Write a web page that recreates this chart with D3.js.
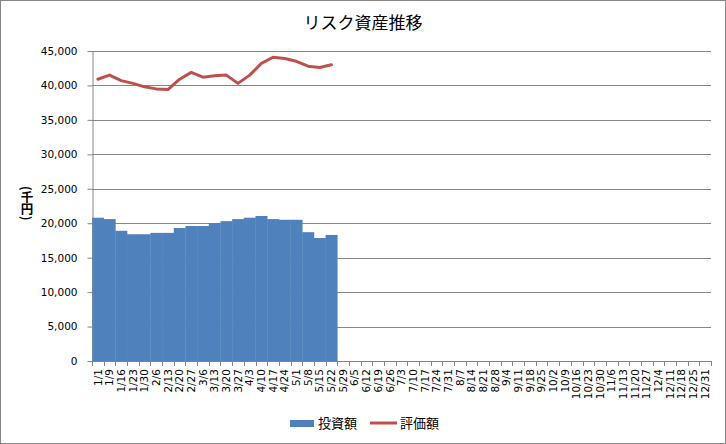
<!DOCTYPE html>
<html>
<head>
<meta charset="utf-8">
<script src="https://cdn.jsdelivr.net/npm/d3@7"></script>
<style>
  body { margin: 0; background: #fff; }
  text { font-family: "DejaVu Sans", sans-serif; }
  .jp { font-family: "Noto Sans CJK JP", sans-serif; }
</style>
</head>
<body>
<div id="chart"></div>
<script>
const dates = ["1/1","1/9","1/16","1/23","1/30","2/6","2/13","2/20","2/27","3/6","3/13","3/20","3/27",
  "4/3","4/10","4/17","4/24","5/1","5/8","5/15","5/22","5/29","6/5","6/12","6/19","6/26",
  "7/3","7/10","7/17","7/24","7/31","8/7","8/14","8/21","8/28","9/4","9/11","9/18","9/25",
  "10/2","10/9","10/16","10/23","10/30","11/6","11/13","11/20","11/27","12/4","12/11","12/18","12/25","12/31"];

// 投資額 (bars), 千円
const invested = [20800,20600,18900,18400,18400,18600,18600,19300,19600,19600,20000,20300,20600,20800,21050,20600,20500,20500,18700,17850,18300];
// 評価額 (line), 千円
const valuation = [40900,41500,40700,40300,39800,39500,39400,40900,41900,41200,41400,41500,40300,41500,43200,44100,43900,43500,42800,42600,43000];

const yTicks = [0,5000,10000,15000,20000,25000,30000,35000,40000,45000];

const W = 726, H = 444;
const plot = { left: 92, right: 711, top: 51, bottom: 361 };

const svg = d3.select("#chart").append("svg")
    .attr("width", W)
    .attr("height", H);

// outer chart border
svg.append("rect")
    .attr("x", 0.5).attr("y", 0.5)
    .attr("width", W - 1).attr("height", H - 1)
    .attr("fill", "#fff")
    .attr("stroke", "#868686");

const x = d3.scaleBand().domain(dates).range([plot.left, plot.right]).padding(0);
const y = d3.scaleLinear().domain([0, 45000]).range([plot.bottom, plot.top]);

// horizontal grid lines
svg.append("g")
  .selectAll("line")
  .data(yTicks.slice(1))
  .enter().append("line")
    .attr("x1", plot.left).attr("x2", plot.right)
    .attr("y1", d => Math.round(y(d)) + 0.5)
    .attr("y2", d => Math.round(y(d)) + 0.5)
    .attr("stroke", "#868686");

// bars
svg.append("g")
  .selectAll("rect")
  .data(invested)
  .enter().append("rect")
    .attr("x", (d, i) => x(dates[i]))
    .attr("width", x.bandwidth() + 0.3)
    .attr("y", d => y(d))
    .attr("height", d => y(0) - y(d))
    .attr("fill", "#4f81bd");

// valuation line
const line = d3.line()
    .x((d, i) => x(dates[i]) + x.bandwidth() / 2)
    .y(d => y(d));

svg.append("path")
    .datum(valuation)
    .attr("d", line)
    .attr("fill", "none")
    .attr("stroke", "#c0504d")
    .attr("stroke-width", 3)
    .attr("stroke-linejoin", "round")
    .attr("stroke-linecap", "round");

// y axis
const yAxis = svg.append("g")
    .attr("transform", `translate(${plot.left + 0.5},0)`)
    .call(d3.axisLeft(y).tickValues(yTicks).tickFormat(d3.format(",")).tickSize(5).tickSizeOuter(0));
yAxis.select(".domain").attr("stroke", "#868686");
yAxis.selectAll(".tick line").attr("stroke", "#868686");
yAxis.selectAll("text")
    .attr("x", -15)
    .style("font-size", "10.5px")
    .attr("fill", "#000");

// x axis line
svg.append("line")
    .attr("x1", plot.left).attr("x2", plot.right)
    .attr("y1", plot.bottom + 0.5).attr("y2", plot.bottom + 0.5)
    .attr("stroke", "#868686");

// x tick marks at category boundaries
const bounds = dates.map(d => x(d)).concat([x(dates[dates.length - 1]) + x.bandwidth()]);
svg.append("g")
  .selectAll("line")
  .data(bounds)
  .enter().append("line")
    .attr("x1", d => Math.round(d) + 0.5).attr("x2", d => Math.round(d) + 0.5)
    .attr("y1", plot.bottom).attr("y2", plot.bottom + 5)
    .attr("stroke", "#868686");

// x labels, rotated
svg.append("g")
  .selectAll("text")
  .data(dates)
  .enter().append("text")
    .attr("transform", d => `translate(${x(d) + x.bandwidth() / 2},${plot.bottom + 8}) rotate(-90)`)
    .attr("dy", "0.35em")
    .attr("text-anchor", "end")
    .style("font-size", "10.5px")
    .attr("fill", "#000")
    .text(d => d);

// title
svg.append("text")
    .attr("class", "jp")
    .attr("x", W / 2)
    .attr("y", 29)
    .attr("text-anchor", "middle")
    .style("font-size", "17px")
    .attr("fill", "#000")
    .text("リスク資産推移");

// y axis title, vertical writing (kanji upright, brackets turned)
svg.append("text")
    .attr("class", "jp")
    .attr("x", 27)
    .attr("y", 186)
    .style("writing-mode", "vertical-rl")
    .style("text-orientation", "mixed")
    .style("font-size", "12.5px")
    .style("font-weight", "bold")
    .attr("fill", "#000")
    .text("(千円)");

// legend
const legend = svg.append("g");
legend.append("rect")
    .attr("x", 290).attr("y", 420)
    .attr("width", 24).attr("height", 7)
    .attr("fill", "#4f81bd");
legend.append("text")
    .attr("class", "jp")
    .attr("x", 318).attr("y", 428)
    .style("font-size", "13px")
    .text("投資額");
legend.append("line")
    .attr("x1", 370).attr("x2", 397)
    .attr("y1", 423).attr("y2", 423)
    .attr("stroke", "#c0504d")
    .attr("stroke-width", 3);
legend.append("text")
    .attr("class", "jp")
    .attr("x", 400).attr("y", 428)
    .style("font-size", "13px")
    .text("評価額");
</script>
</body>
</html>
